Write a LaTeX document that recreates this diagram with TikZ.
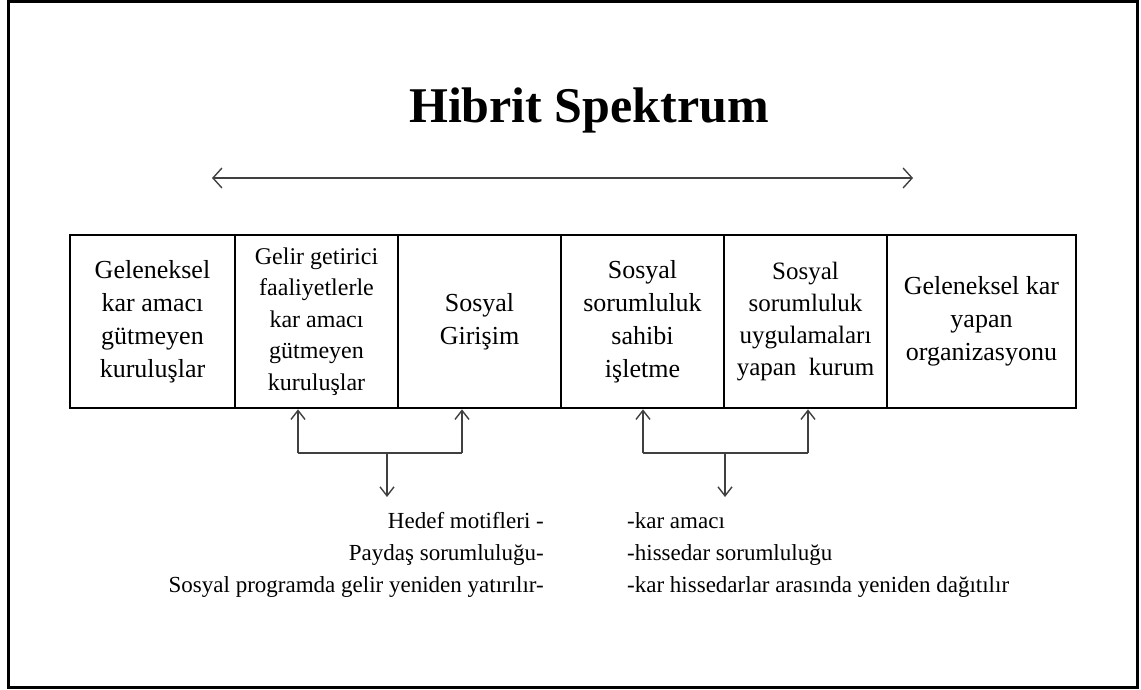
\documentclass[tikz,border=0pt]{standalone}
\usepackage{fontspec}
\setmainfont{Liberation Serif}
\usetikzlibrary{arrows.meta}
\begin{document}
\begin{tikzpicture}[x=1pt,y=-1pt,
  cell/.style={draw,line width=2.6pt,minimum height=173pt,align=center,inner sep=0pt,
     font=\fontsize{26}{33}\selectfont},
  conn/.style={draw=black!75,line width=1.4pt},
  tip/.style={-{Straight Barb[length=9pt,width=14pt,line width=1.4pt]}},
  note/.style={inner sep=0pt,font=\fontsize{23}{32}\selectfont}]
\useasboundingbox (0,0) rectangle (1141,690);
\node[draw,line width=3pt,minimum width=1129pt,minimum height=685pt,inner sep=0pt] (frame) at (572.5,344.5) {};
\node[font=\fontsize{50}{56}\selectfont\bfseries] (title) at (589,110) {Hibrit Spektrum};
\coordinate (sl) at (212,178);
\coordinate (sr) at (913,178);
\draw[conn,{Straight Barb[length=9pt,width=20pt,line width=1.4pt]}-{Straight Barb[length=9pt,width=20pt,line width=1.4pt]}] (sl) -- (sr);
\node[cell,minimum width=165pt] (b1) at (152.5,321.5) {Geleneksel\\kar amacı\\gütmeyen\\kuruluşlar};
\node[cell,minimum width=163pt,font=\fontsize{24}{31.5}\selectfont] (b2) at (316.5,321.5) {Gelir getirici\\faaliyetlerle\\kar amacı\\gütmeyen\\kuruluşlar};
\node[cell,minimum width=163pt] (b3) at (479.5,321.5) {Sosyal\\Girişim};
\node[cell,minimum width=163pt] (b4) at (642.5,321.5) {Sosyal\\sorumluluk\\sahibi\\işletme};
\node[cell,minimum width=163pt,font=\fontsize{25}{32}\selectfont] (b5) at (805.5,321.5) {Sosyal\\sorumluluk\\uygulamaları\\yapan \ kurum};
\node[cell,minimum width=189pt] (b6) at (981.5,321.5) {Geleneksel kar\\yapan\\organizasyonu};
% left group
\coordinate (la) at (298,453);
\coordinate (lb) at (462,453);
\coordinate (lm) at (387,453);
\coordinate (ld) at (387,497);
\draw[conn] (la) -- (lb);
\draw[conn,tip] (la) -- (la |- b2.south);
\draw[conn,tip] (lb) -- (lb |- b3.south);
\draw[conn,tip] (lm) -- (ld);
% right group
\coordinate (ra) at (643,453);
\coordinate (rb) at (808,453);
\coordinate (rm) at (725,453);
\coordinate (rd) at (725,497);
\draw[conn] (ra) -- (rb);
\draw[conn,tip] (ra) -- (ra |- b4.south);
\draw[conn,tip] (rb) -- (rb |- b5.south);
\draw[conn,tip] (rm) -- (rd);
\node[note,align=right,anchor=north east] (tl) at (544,512) {Hedef motifleri -\\Paydaş sorumluluğu-\\Sosyal programda gelir yeniden yatırılır-};
\node[note,align=left,anchor=north west] (tr) at (627,512) {-kar amacı\\-hissedar sorumluluğu\\-kar hissedarlar arasında yeniden dağıtılır};
\end{tikzpicture}
\end{document}
